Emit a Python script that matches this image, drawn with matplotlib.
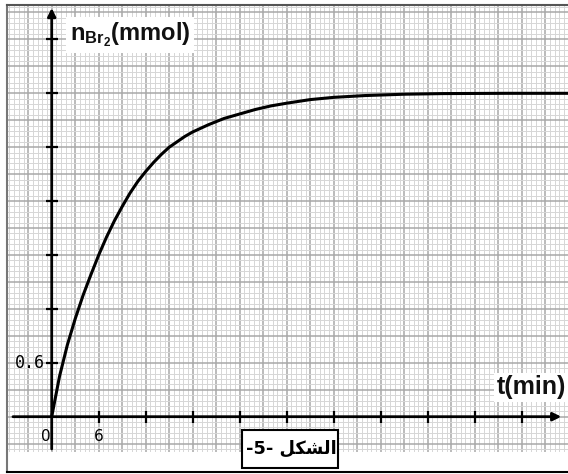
import numpy as np
import matplotlib.pyplot as plt
from matplotlib.patches import Rectangle

# values: time (min) and n(Br2) in mmol
t_min = [0, 1, 2, 3, 4, 5, 6, 7, 8, 9, 10, 11, 12, 13, 14, 15, 16, 17, 18,
         19, 20, 22, 24, 26, 28, 30, 33, 36, 40, 45, 50, 58, 66]
n_br2 = [0, 0.45, 0.80, 1.09, 1.35, 1.58, 1.80, 2.00, 2.18, 2.34, 2.49,
         2.62, 2.73, 2.83, 2.92, 3.00, 3.06, 3.12, 3.17, 3.21, 3.25, 3.32,
         3.37, 3.42, 3.46, 3.49, 3.53, 3.555, 3.575, 3.59, 3.597, 3.60, 3.60]

x_ticks = [6, 12, 18, 24, 30, 36, 42, 48, 54, 60]
y_ticks = [0.6, 1.2, 1.8, 2.4, 3.0, 3.6, 4.2]

W, H = 568, 474
fig = plt.figure(figsize=(W / 100, H / 100), dpi=100)

# graph paper area in pixels
left, right, top, bottom = 8, 568, 6, 452
ax = fig.add_axes([left / W, 1 - bottom / H, (right - left) / W, (bottom - top) / H])
ax.set_xlim(-5.58, 65.91)
ax.set_ylim(-0.393, 4.572)
ax.axis('off')

# millimetre paper grid
for k in range(-9, 110):
    x = k * 0.6
    major = k % 5 == 0
    ax.axvline(x, color='#a8a8a8' if major else '#d6d6d6',
               lw=1.1 if major else 0.7, zorder=1)
for j in range(-6, 77):
    y = j * 0.06
    major = j % 5 == 0
    ax.axhline(y, color='#a8a8a8' if major else '#d6d6d6',
               lw=1.1 if major else 0.7, zorder=1)

# axes with arrows
ax.annotate('', xy=(65.4, 0), xytext=(-5.3, 0),
            arrowprops=dict(arrowstyle='-|>', lw=2, color='black', mutation_scale=12),
            zorder=3)
ax.annotate('', xy=(0, 4.58), xytext=(0, -0.39),
            arrowprops=dict(arrowstyle='-|>', lw=2, color='black', mutation_scale=12),
            zorder=3, annotation_clip=False)

ax.plot(x_ticks, [0] * len(x_ticks), ls='none', marker='|', ms=8, mew=1.6,
        color='black', zorder=4)
ax.plot([0] * len(y_ticks), y_ticks, ls='none', marker='_', ms=8, mew=1.6,
        color='black', zorder=4)

ax.plot(t_min, n_br2, color='black', lw=2.2, zorder=5,
        solid_capstyle='round', solid_joinstyle='round')

# tick labels
ax.text(-0.9, 0.6, '0.6', family='DejaVu Sans Mono', fontsize=12,
        ha='right', va='center', zorder=6)
ax.text(-0.8, -0.22, '0', fontsize=11, ha='center', va='center', zorder=6)
ax.text(6, -0.22, '6', fontsize=11, ha='center', va='center', zorder=6)

plt.rcParams['mathtext.fontset'] = 'custom'
plt.rcParams['mathtext.rm'] = 'Liberation Sans:bold'
plt.rcParams['mathtext.bf'] = 'Liberation Sans:bold'

def px(x, y):
    return x / W, 1 - y / H

fig.text(*px(70, 35), r'$\mathbf{n_{Br_2}}$(mmol)', family='Liberation Sans',
         fontweight='bold', fontsize=17, ha='left', va='center', color='#111111',
         bbox=dict(boxstyle='square,pad=0.15', fc='white', ec='none'), zorder=10)
fig.text(*px(566, 387), 't(min)', family='Liberation Sans', fontweight='bold',
         fontsize=18, ha='right', va='center', color='#111111',
         bbox=dict(boxstyle='square,pad=0.1', fc='white', ec='none'), zorder=10)

# caption box with "الشكل -5-" (shaped glyphs in visual order)
fig.add_artist(Rectangle(px(242, 468), 96 / W, 38 / H, transform=fig.transFigure,
                         fc='white', ec='black', lw=1.5, zorder=9))
caption = '-5- ' + '\uFEDE\uFEDC\uFEB8\uFEDF\uFE8D'
fig.text(*px(291, 449), caption, family='DejaVu Sans', fontweight='bold',
         fontsize=12.8, ha='center', va='center', color='black', zorder=10)

# outer frame
fig.add_artist(plt.Line2D([7 / W, 7 / W], [1 - 5 / H, 1 - 472 / H], color='#777777', lw=1.5))
fig.add_artist(plt.Line2D([7 / W, 1], [1 - 5 / H, 1 - 5 / H], color='#555555', lw=1.5))
fig.add_artist(plt.Line2D([7 / W, 1], [1 - 472 / H, 1 - 472 / H], color='black', lw=1.5))

fig.savefig('out.png', dpi=100)
